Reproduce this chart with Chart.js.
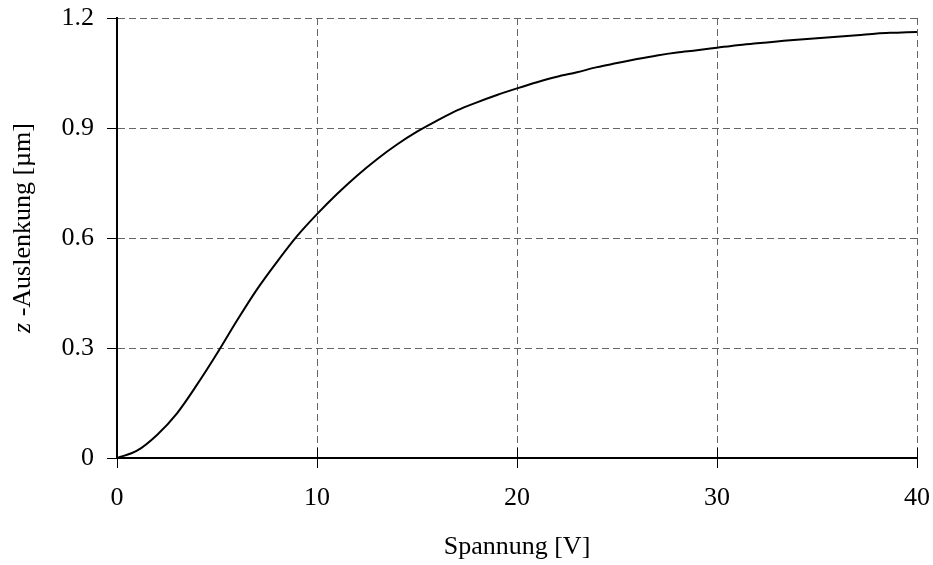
<!DOCTYPE html>
<html>
<head>
<meta charset="utf-8">
<script src="https://cdn.jsdelivr.net/npm/chart.js@4.4.1/dist/chart.umd.min.js"></script>
<style>
  html, body { margin: 0; padding: 0; background: #fff; }
  #wrap { width: 933px; height: 565px; }
</style>
</head>
<body>
<div id="wrap"><canvas id="lineChart" width="933" height="565"></canvas></div>
<script>
// voltage in V, deflection in µm
const spannung = [0, 1, 2, 3, 4, 5, 6, 7, 8, 9, 10, 11, 12, 13, 14, 15, 16, 17, 18, 19, 20,
  21, 22, 23, 24, 25, 26, 27, 28, 29, 30, 31, 32, 33, 34, 35, 36, 37, 38, 39, 40];
const auslenkung = [0, 0.02, 0.063, 0.122, 0.2, 0.285, 0.375, 0.46, 0.535, 0.605, 0.665,
  0.72, 0.77, 0.815, 0.855, 0.89, 0.92, 0.948, 0.97, 0.99, 1.008,
  1.025, 1.04, 1.052, 1.066, 1.077, 1.088, 1.098, 1.106, 1.112, 1.119,
  1.126, 1.131, 1.136, 1.141, 1.145, 1.149, 1.153, 1.158, 1.16, 1.162];
const xTicks = [0, 10, 20, 30, 40];
const yTicks = [0, 0.3, 0.6, 0.9, 1.2];

const serif = "'Liberation Serif', 'Times New Roman', serif";
const fontSize = 26;

// y title with an italic "z", plus x tick marks crossing the axis
const extras = {
  id: "extras",
  afterDraw(chart) {
    const ctx = chart.ctx;
    const area = chart.chartArea;
    const xs = chart.scales.x;

    ctx.save();
    ctx.strokeStyle = "#000";
    ctx.lineWidth = 1;
    xTicks.forEach((v) => {
      const px = Math.round(xs.getPixelForValue(v)) + 0.5;
      ctx.beginPath();
      ctx.moveTo(px, area.bottom);
      ctx.lineTo(px, area.bottom - 10);
      ctx.stroke();
    });
    ctx.restore();

    const parts = [["italic", "z"], ["normal", " -Auslenkung [µm]"]];
    ctx.save();
    ctx.translate(23, 228);
    ctx.rotate(-Math.PI / 2);
    ctx.fillStyle = "#000";
    ctx.textBaseline = "middle";
    let total = 0;
    parts.forEach(([style, t]) => {
      ctx.font = style + " " + fontSize + "px " + serif;
      total += ctx.measureText(t).width;
    });
    let x = -total / 2;
    parts.forEach(([style, t]) => {
      ctx.font = style + " " + fontSize + "px " + serif;
      ctx.fillText(t, x, 0);
      x += ctx.measureText(t).width;
    });
    ctx.restore();
  },
};

const ctx = document.getElementById("lineChart").getContext("2d");
const chart = new Chart(ctx, {
  type: "line",
  data: {
    datasets: [
      {
        data: spannung.map((v, i) => ({ x: v, y: auslenkung[i] })),
        borderColor: "#000",
        borderWidth: 2,
        pointRadius: 0,
        cubicInterpolationMode: "monotone",
        fill: false,
      },
    ],
  },
  options: {
    responsive: false,
    animation: false,
    layout: { padding: { top: 18, right: 16, left: 0, bottom: 0 } },
    plugins: {
      legend: { display: false },
      tooltip: { enabled: false },
    },
    scales: {
      x: {
        type: "linear",
        min: 0,
        max: 40,
        afterBuildTicks: (s) => { s.ticks = xTicks.map((v) => ({ value: v })); },
        afterFit: (s) => {
          s.height = 107;
          s.paddingLeft = 0;
          s.paddingRight = 0;
        },
        grid: {
          color: "#666",
          lineWidth: 1,
          tickColor: "#000",
          tickLength: 10,
          tickWidth: 1,
        },
        border: { color: "#000", width: 2, dash: [7, 4] },
        ticks: {
          color: "#000",
          padding: 15,
          maxRotation: 0,
          font: { family: serif, size: fontSize },
        },
        title: {
          display: true,
          text: "Spannung [V]",
          color: "#000",
          font: { family: serif, size: fontSize },
          padding: { top: 0, bottom: 2 },
        },
      },
      y: {
        min: 0,
        max: 1.2,
        afterBuildTicks: (s) => { s.ticks = yTicks.map((v) => ({ value: v })); },
        afterFit: (s) => {
          s.width = 117;
          s.paddingTop = 0;
          s.paddingBottom = 0;
        },
        grid: {
          color: "#666",
          lineWidth: 1,
          tickColor: "#000",
          tickLength: 10,
          tickWidth: 1,
        },
        border: { color: "#000", width: 2, dash: [7, 4] },
        ticks: {
          color: "#000",
          padding: 13,
          font: { family: serif, size: fontSize },
          callback: (v) => (v === 0 ? "0" : v.toFixed(1)),
        },
      },
    },
  },
  plugins: [extras],
});
</script>
</body>
</html>
